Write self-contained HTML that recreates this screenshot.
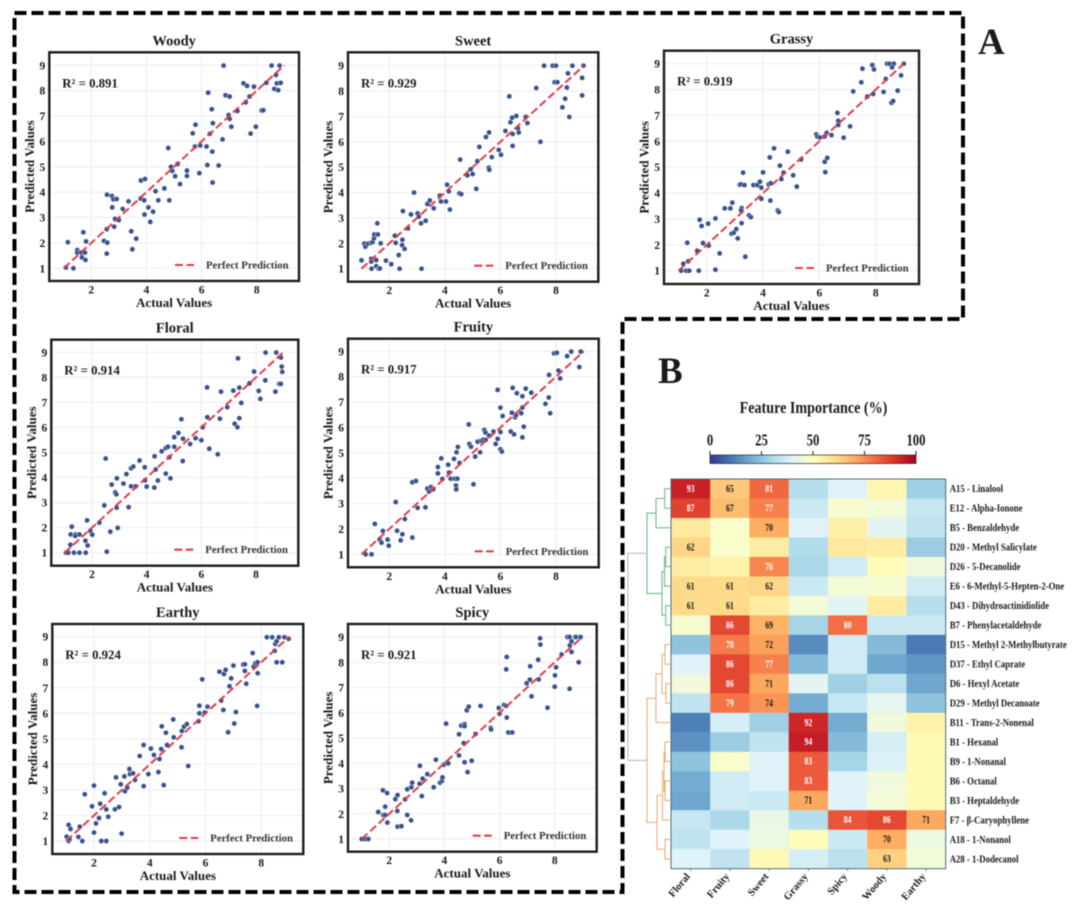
<!DOCTYPE html>
<html lang="en">
<head>
<meta charset="utf-8">
<title>Aroma prediction scatter plots and feature importance heatmap</title>
<style>
html,body{margin:0;padding:0;background:#fff;}
svg{display:block;filter:blur(0.55px);}
text{font-family:"Liberation Serif",serif;font-weight:bold;fill:#1a1a1a;}
</style>
</head>
<body>
<svg id="figure" xmlns="http://www.w3.org/2000/svg" width="1080" height="907" viewBox="0 0 1080 907">
  <rect x="0" y="0" width="1080" height="907" fill="#fff"/>
  <path d="M14.5 13H963V319H622.5V892H14.5Z" fill="none" stroke="#000" stroke-width="4" stroke-dasharray="12 5"/>
  <text x="978" y="54" font-size="37" fill="#000">A</text>
  <text x="658" y="383" font-size="37" fill="#000">B</text>
  <text transform="translate(813.5,413) scale(.83,1)" text-anchor="middle" font-size="17">Feature Importance (%)</text>
  <g id="scatters"></g>
  <g id="heatmap"></g>
</svg>
<script>
// ---------- Scatter data ----------
const woodyActual = [1.08,1.35,1.15,1.49,1.49,1.63,1.66,1.71,1.77,1.79,1.81,2.46,2.58,2.56,2.56,2.57,2.75,2.8,2.92,2.76,3.14,2.86,3.0,2.83,3.35,3.45,3.63,3.49,3.79,3.8,3.95,3.92,4.07,4.24,3.93,4.14,4.33,4.43,4.65,4.83,4.79,4.89,4.94,5.04,5.13,5.22,5.47,5.47,5.92,5.68,5.78,5.76,5.95,6.18,6.21,6.4,6.39,6.62,6.3,6.41,6.37,6.24,6.76,6.8,6.87,7.02,6.98,7.02,7.08,7.3,7.52,7.65,7.6,7.74,7.9,7.78,7.97,8.18,8.24,8.35,8.54,8.83,8.7,8.64,8.78,8.73,8.87];
const woodyPredicted = [1.03,1.0,2.03,1.72,1.62,1.62,1.43,2.42,1.62,1.33,2.06,2.08,2.01,1.58,2.54,3.9,3.85,3.72,3.73,3.4,3.34,2.95,2.9,2.64,3.64,2.46,2.17,1.75,3.75,4.46,4.52,3.68,3.4,3.23,3.12,2.83,4.04,3.68,4.15,3.68,5.74,5.0,4.84,4.63,5.11,4.32,4.85,4.64,4.75,6.32,6.66,5.8,5.84,5.8,5.07,4.38,5.6,5.05,6.3,6.72,7.27,7.92,6.08,8.99,7.82,7.77,7.04,6.89,6.58,7.2,8.29,8.19,7.54,7.77,8.16,6.31,6.58,7.22,7.23,8.31,8.99,8.99,8.62,8.07,8.02,8.29,8.31];

const sweetActual = [1.0,1.1,1.14,1.24,1.34,1.4,1.35,1.35,1.36,1.45,1.46,1.59,1.57,1.53,1.53,1.62,1.66,1.69,1.88,2.07,2.2,2.23,2.34,2.37,2.47,2.46,2.55,2.49,2.67,2.78,2.89,3.02,3.06,3.14,3.31,3.16,3.37,3.46,3.6,3.82,3.86,4.04,4.08,4.14,4.18,4.55,4.52,4.59,4.81,4.93,5.0,5.13,5.17,5.24,5.48,5.59,5.58,5.6,5.69,5.94,6.02,6.18,6.32,6.36,6.42,6.44,6.44,6.57,6.63,6.66,6.91,6.97,7.29,7.44,7.57,7.88,8.0,7.95,8.05,8.23,8.33,8.39,8.43,8.48,8.59,8.94,8.94,8.99];
const sweetPredicted = [1.33,1.99,1.87,1.99,2.02,2.05,1.39,1.28,1.0,2.2,2.35,2.35,2.79,1.34,1.1,1.0,1.01,2.0,1.32,1.18,2.3,2.02,1.54,1.0,2.14,1.93,1.78,3.27,2.59,3.14,4.0,3.18,3.05,2.79,2.89,1.0,3.55,3.69,3.38,3.88,3.65,3.65,4.31,4.05,3.33,5.3,3.97,3.94,4.68,4.92,4.73,4.15,5.24,5.8,6.19,6.37,4.98,4.9,5.4,5.68,5.49,6.43,7.79,6.77,6.95,6.31,5.84,7.02,6.53,6.37,6.98,6.74,8.12,6.0,9.0,9.0,9.0,8.35,8.35,7.36,7.7,8.14,8.7,6.98,9.0,8.52,7.83,9.0];

const grassyActual = [1.09,1.27,1.38,1.17,1.34,1.31,1.66,1.72,1.75,1.82,1.87,2.05,2.07,2.31,2.31,2.46,2.64,2.84,2.91,2.88,2.96,3.05,3.1,3.17,3.21,3.34,3.29,3.24,3.22,3.24,3.37,3.5,3.57,3.66,3.79,3.89,3.94,4.0,3.94,4.2,4.27,4.24,4.26,4.39,4.52,4.56,4.6,4.65,4.73,4.88,5.07,5.2,5.35,5.89,5.93,6.02,6.19,6.26,6.19,6.28,6.21,6.43,6.64,6.67,6.67,6.86,7.09,7.2,7.49,7.53,7.7,7.88,7.94,7.91,8.28,8.36,8.4,8.49,8.64,8.58,8.56,8.62,8.78,8.9,9.0];
const grassyPredicted = [1.0,1.0,1.0,1.27,1.36,2.08,1.77,1.0,2.97,2.73,2.07,2.82,1.97,3.02,1.04,1.67,3.41,3.41,3.63,2.43,2.47,2.61,2.25,4.32,4.34,4.31,4.79,3.42,3.33,2.84,1.54,3.14,3.07,4.31,4.31,4.44,4.21,4.8,3.78,4.34,4.38,5.38,3.71,5.73,3.33,3.27,5.06,4.54,4.79,5.6,4.69,4.25,5.3,6.27,6.18,6.15,6.19,6.33,5.21,5.36,4.81,6.24,7.1,6.79,6.63,6.14,6.58,7.93,8.28,8.81,7.73,8.95,8.78,7.83,7.91,8.41,9.0,9.0,9.0,8.86,7.49,7.56,7.96,8.55,9.0];

const floralActual = [1.05,1.13,1.34,1.54,1.77,1.21,1.26,1.22,1.39,1.39,1.54,1.76,1.84,1.82,1.94,2.01,2.27,2.45,2.5,2.54,2.67,2.72,2.85,2.89,2.91,2.9,2.94,3.15,3.26,3.34,3.43,3.43,3.51,3.6,3.74,3.93,3.94,4.0,4.29,4.33,4.28,4.41,4.55,4.7,4.78,4.7,4.83,4.87,5.01,5.01,5.16,5.27,5.33,5.32,5.59,5.79,6.0,6.05,6.21,6.22,6.29,6.6,6.68,6.72,6.95,7.17,7.22,7.32,7.34,7.39,7.39,7.46,7.76,7.93,8.1,8.16,8.34,8.35,8.71,8.74,8.85,8.91,8.91,8.94,8.96];
const floralPredicted = [1.0,1.0,1.0,1.0,1.0,1.32,2.04,1.73,1.73,1.67,1.73,1.48,1.29,2.29,1.87,1.72,2.2,2.89,4.76,1.04,1.84,3.72,3.41,3.33,3.97,2.8,1.99,3.76,4.14,2.82,4.37,3.65,4.44,3.65,4.68,4.41,3.89,3.64,4.85,4.32,3.6,3.88,5.05,5.18,5.23,4.16,4.81,3.97,5.61,5.23,5.78,6.33,5.55,4.66,5.34,5.57,5.49,6.01,7.6,6.41,5.15,4.93,6.35,7.43,6.81,7.47,6.15,6.01,8.76,6.37,7.59,6.98,7.76,8.23,7.46,7.14,7.88,8.99,7.43,8.99,7.74,7.74,8.79,8.43,8.22];

const fruityActual = [1.15,1.36,1.48,1.65,1.72,1.77,1.94,1.98,2.23,2.28,2.41,2.47,2.56,2.83,2.83,2.96,3.02,3.3,3.37,3.43,3.5,3.58,3.75,3.75,3.87,3.91,4.12,4.15,4.21,4.33,4.42,4.47,4.36,4.45,4.4,4.41,4.53,4.86,4.88,4.94,5.03,5.09,5.18,5.27,5.31,5.39,5.42,5.46,5.47,5.59,5.75,5.83,5.9,5.9,6.0,6.0,6.0,6.05,6.08,6.37,6.41,6.49,6.44,6.53,6.56,6.59,6.75,6.79,6.79,6.79,6.84,6.91,7.11,7.62,7.74,7.75,7.79,7.93,8.03,8.09,8.15,8.4,8.55,8.84,8.89];
const fruityPredicted = [1.0,1.0,2.2,1.59,1.46,1.92,1.58,1.34,3.06,1.93,1.55,1.79,2.39,3.84,1.66,3.89,2.83,2.85,3.59,3.47,3.65,3.56,4.44,4.19,4.78,3.97,4.53,4.22,3.98,4.76,5.02,5.23,3.98,3.98,3.71,3.56,4.6,6.12,5.35,5.24,3.76,4.85,5.44,5.02,5.48,5.52,5.9,5.8,5.51,5.68,5.84,5.35,5.55,7.48,5.82,6.78,5.14,5.05,6.45,5.84,6.58,5.73,7.56,6.4,6.48,7.35,6.56,7.23,6.78,5.61,6.03,7.53,7.37,6.93,7.18,8.07,6.56,8.92,8.94,8.24,7.93,8.81,8.99,8.38,8.99];

const earthyActual = [1.02,1.09,1.12,1.09,1.16,1.44,1.49,1.58,1.67,1.93,2.0,2.0,2.07,2.18,2.22,2.26,2.38,2.44,2.44,2.51,2.75,2.79,2.9,2.96,2.99,3.09,3.11,3.19,3.27,3.29,3.4,3.47,3.64,3.78,3.78,3.95,4.04,4.15,4.31,4.35,4.41,4.43,4.5,4.58,4.62,4.84,4.86,5.14,5.15,5.23,5.33,5.38,5.75,5.78,5.78,5.88,5.97,6.07,6.5,6.56,6.64,6.66,6.72,6.81,6.86,6.92,7.0,7.03,7.09,7.35,7.41,7.41,7.46,7.69,7.73,7.79,7.87,7.85,7.87,8.2,8.39,8.48,8.5,8.55,8.55,8.63,8.75,8.83,8.98];
const earthyPredicted = [1.17,1.0,1.07,1.63,1.47,1.16,1.56,1.0,2.83,2.36,3.17,1.33,1.69,1.9,2.46,1.0,2.87,2.24,1.0,1.95,2.24,3.49,2.33,3.22,1.29,3.53,2.95,3.09,3.82,3.62,3.65,3.39,4.33,4.76,3.15,3.62,4.62,4.37,3.7,4.21,4.6,5.49,3.19,5.24,4.76,5.76,5.06,4.67,5.31,5.48,5.58,3.94,5.69,6.3,6.0,7.33,6.03,6.26,7.63,6.5,6.13,7.54,7.7,5.26,7.06,7.37,7.87,5.6,6.05,7.91,7.92,7.66,7.16,8.36,7.83,7.96,8.0,6.29,7.57,8.98,8.98,8.45,8.72,8.82,8.0,8.98,8.0,8.98,8.92];

const spicyActual = [1.0,1.12,1.24,1.6,1.77,1.78,1.85,1.85,1.93,1.92,2.22,2.29,2.3,2.3,2.44,2.57,2.65,2.65,2.79,2.8,2.83,3.11,3.1,3.18,3.21,3.38,3.61,3.69,3.84,3.91,3.93,3.98,4.06,4.07,4.14,4.53,4.53,4.61,4.73,4.73,4.7,4.73,4.81,4.84,4.88,4.99,5.13,5.31,5.68,5.69,5.97,6.0,6.16,6.26,6.24,6.24,6.26,6.32,6.46,6.98,7.1,7.11,7.16,7.4,7.42,7.47,7.48,7.74,8.0,8.01,8.05,8.25,8.46,8.54,8.54,8.55,8.61,8.61,8.74,8.87,8.77,8.94];
const spicyPredicted = [1.0,1.0,1.0,2.07,2.93,1.95,2.28,1.95,1.65,2.82,2.58,2.11,2.74,1.49,1.51,2.57,2.97,1.95,1.74,3.05,3.23,3.9,3.19,2.7,3.39,3.57,3.05,4.14,3.23,3.3,3.44,3.94,5.57,4.0,4.0,5.15,4.31,5.49,5.55,5.47,4.8,4.04,6.1,3.65,6.24,4.1,5.16,6.27,5.4,5.34,6.19,5.96,6.31,8.21,7.72,6.27,5.81,5.22,5.22,7.17,7.31,7.84,6.65,8.1,7.32,8.95,8.7,6.2,7.03,7.48,7.8,8.31,9.0,9.0,6.95,8.67,8.83,8.41,9.0,8.0,9.0,9.0];

const xTickValues = [2,4,6,8];
const yTickValues = [1,2,3,4,5,6,7,8,9];
const perfectLineRange = [1,9];

const panelNames = ["Woody","Sweet","Grassy","Floral","Fruity","Earthy","Spicy"];

// ---------- Heatmap data ----------
const compoundLabels = ["A15 - Linalool","E12 - Alpha-Ionone","B5 - Benzaldehyde","D20 - Methyl Salicylate","D26 - 5-Decanolide","E6 - 6-Methyl-5-Hepten-2-One","D43 - Dihydroactinidiolide","B7 - Phenylacetaldehyde","D15 - Methyl 2-Methylbutyrate","D37 - Ethyl Caprate","D6 - Hexyl Acetate","D29 - Methyl Decanoate","B11 - Trans-2-Nonenal","B1 - Hexanal","B9 - 1-Nonanal","B6 - Octanal","B3 - Heptaldehyde","F7 - β-Caryophyllene","A18 - 1-Nonanol","A28 - 1-Dodecanol"];
const aromaLabels = ["Floral","Fruity","Sweet","Grassy","Spicy","Woody","Earthy"];
const floralImportance = [93,87,57,62,56,61,61,47,25,40,45,34,12,15,25,20,19,35,34,40];
const fruityImportance = [65,67,48,48,54,61,61,86,78,86,86,79,38,27,48,37,37,30,40,34];
const sweetImportance = [81,77,70,56,76,62,56,69,72,77,71,74,28,34,40,40,36,43,44,52];
const grassyImportance = [32,36,40,31,30,36,46,29,14,23,41,20,92,94,83,83,71,32,51,38];
const spicyImportance = [40,47,55,57,37,46,41,80,37,37,28,35,20,23,29,40,40,84,36,33];
const woodyImportance = [53,46,41,56,51,47,56,36,23,19,33,42,45,38,39,45,46,86,70,63];
const earthyImportance = [28,35,34,27,45,37,32,36,11,16,19,25,54,52,52,52,52,71,44,46];
const annotationThreshold = 60;
const whiteTextThreshold = 76;
const colorbarTicks = [0,25,50,75,100];
const colormapStops = ["#313695","#4575b4","#74add1","#abd9e9","#e0f3f8","#ffffbf","#fee090","#fdae61","#f46d43","#d73027","#a50026"];

// Dendrogram merges: [distance, leftChild, rightChild]; a number child is a row index
const greenClusterTree = [24,[15,[6.3,0,1],2],[9,[6.5,[5.3,3,4],5],[5.3,6,7]]];
const orangeClusterTree = [24,[15,[9,[6,8,9],[5,10,11]],12],[14,[8.5,[7,[6,13,14],[6,15,16]],17],[6,18,19]]];
const rootMergeDistance = 43;

// ---------- Layout (pixels) ----------
const layout = {
  Woody:{left:49.3,right:299,top:52.3,bottom:281,x2:91.3,x8:256.7,y1:268.3,y9:65.3},
  Sweet:{left:348,right:598.3,top:52.3,bottom:281.7,x2:389.3,x8:556,y1:268.7,y9:65.7},
  Grassy:{left:664,right:919,top:50.7,bottom:284,x2:706.7,x8:875.7,y1:270.7,y9:63.7},
  Floral:{left:51.3,right:298.3,top:339.7,bottom:565.7,x2:92,x8:256,y1:552.7,y9:352.3},
  Fruity:{left:348,right:598.7,top:338.7,bottom:567.3,x2:389.3,x8:556,y1:554.3,y9:351.3},
  Earthy:{left:52.3,right:303.3,top:624,bottom:854,x2:94,x8:261.3,y1:841,y9:636.7},
  Spicy:{left:348,right:596.7,top:624,bottom:851.7,x2:389.3,x8:554.7,y1:839,y9:637}
};
const heat = {left:671,right:945.7,top:479,bottom:868.7};
const bar = {left:710,right:916,top:455,bottom:463.5};

const panelSeries = {
  Woody:{actual:woodyActual,predicted:woodyPredicted,r2:"0.891"},
  Sweet:{actual:sweetActual,predicted:sweetPredicted,r2:"0.929"},
  Grassy:{actual:grassyActual,predicted:grassyPredicted,r2:"0.919"},
  Floral:{actual:floralActual,predicted:floralPredicted,r2:"0.914"},
  Fruity:{actual:fruityActual,predicted:fruityPredicted,r2:"0.917"},
  Earthy:{actual:earthyActual,predicted:earthyPredicted,r2:"0.924"},
  Spicy:{actual:spicyActual,predicted:spicyPredicted,r2:"0.921"}
};

const NS = "http://www.w3.org/2000/svg";
function make(tag, parent, attrs, txt){
  const el = document.createElementNS(NS, tag);
  for (const k in attrs) el.setAttribute(k, attrs[k]);
  if (txt !== undefined) el.textContent = txt;
  parent.appendChild(el);
  return el;
}

// ---------- Scatter panels ----------
const scatterRoot = document.getElementById("scatters");
panelNames.forEach(function(name){
  const box = layout[name];
  const series = panelSeries[name];
  const slug = name.toLowerCase();
  const xScale = function(v){ return box.x2 + (v - 2) * (box.x8 - box.x2) / 6; };
  const yScale = function(v){ return box.y1 - (v - 1) * (box.y1 - box.y9) / 8; };

  const g = make("g", scatterRoot, {});
  
  

  xTickValues.forEach(function(t){
    const line = make("line", g, {x1:xScale(t),x2:xScale(t),y1:box.top,y2:box.bottom,stroke:"#ededf0","stroke-width":1});
    
    
    const label = make("text", g, {x:xScale(t),y:box.bottom+12.5,"text-anchor":"middle","font-size":11.5}, String(t));
    
    
  });
  yTickValues.forEach(function(t){
    const line = make("line", g, {x1:box.left,x2:box.right,y1:yScale(t),y2:yScale(t),stroke:"#ededf0","stroke-width":1});
    
    
    const label = make("text", g, {x:box.left-4,y:yScale(t)+4,"text-anchor":"end","font-size":11.5}, String(t));
    
    
  });

  series.actual.forEach(function(a, i){
    const dot = make("circle", g, {cx:xScale(a),cy:yScale(series.predicted[i]),r:2.6,fill:"#38528f",stroke:"#fff","stroke-width":0.4});
    
    
  });

  const diag = make("line", g, {x1:xScale(perfectLineRange[0]),y1:yScale(perfectLineRange[0]),x2:xScale(perfectLineRange[1]),y2:yScale(perfectLineRange[1]),stroke:"#df3a47","stroke-width":2.1,"stroke-dasharray":"8 3.5","stroke-opacity":0.95});
  
  

  const frame = make("rect", g, {x:box.left,y:box.top,width:box.right-box.left,height:box.bottom-box.top,fill:"none",stroke:"#1c1c1c","stroke-width":2.4});
  
  

  const mid = (box.left + box.right) / 2;
  const title = make("text", g, {x:mid,y:box.top-7,"text-anchor":"middle","font-size":14.5}, name);
  
  

  const xTitle = make("text", g, {x:mid,y:box.bottom+26,"text-anchor":"middle","font-size":13}, "Actual Values");
  
  

  const yMid = (box.top + box.bottom) / 2;
  const yTitle = make("text", g, {transform:"translate("+(box.left-15.5)+","+yMid+") rotate(-90)","text-anchor":"middle","font-size":13}, "Predicted Values");
  
  

  const r2 = make("text", g, {x:box.left+13,y:box.top+35,"font-size":12.8}, "R² = " + series.r2);
  
  

  const legendKey = make("line", g, {x1:box.right-124,x2:box.right-105,y1:box.bottom-16,y2:box.bottom-16,stroke:"#df3a47","stroke-width":2.1,"stroke-dasharray":"8 3.5"});
  
  

  const legendText = make("text", g, {x:box.right-93,y:box.bottom-12.5,"font-size":10.7,style:"fill:#333"}, "Perfect Prediction");
  
  
});

// ---------- Heatmap ----------
const heatRoot = document.getElementById("heatmap");
const importanceColumns = [floralImportance,fruityImportance,sweetImportance,grassyImportance,spicyImportance,woodyImportance,earthyImportance];
const cellW = (heat.right - heat.left) / aromaLabels.length;
const cellH = (heat.bottom - heat.top) / compoundLabels.length;
const colX = function(c){ return heat.left + c * cellW; };
const rowY = function(r){ return heat.top + r * cellH; };
const rowCentre = function(r){ return heat.top + (r + 0.5) * cellH; };
const distX = function(d){ return heat.left - d; };

function mix(a, b, t){
  const pa = parseInt(a.slice(1), 16), pb = parseInt(b.slice(1), 16);
  const ch = function(s){ return Math.round(((pa >> s) & 255) * (1 - t) + ((pb >> s) & 255) * t); };
  return "rgb(" + ch(16) + "," + ch(8) + "," + ch(0) + ")";
}
function colorFor(v){
  const p = Math.max(0, Math.min(0.9999, v / 100)) * (colormapStops.length - 1);
  const i = Math.floor(p);
  return mix(colormapStops[i], colormapStops[i + 1], p - i);
}

importanceColumns.forEach(function(column, c){
  column.forEach(function(v, r){
    const cell = make("rect", heatRoot, {x:colX(c),y:rowY(r),width:cellW+0.2,height:cellH+0.2,fill:colorFor(v)});
    
    
    if (v >= annotationThreshold) {
      const note = make("text", heatRoot, {transform:"translate("+(colX(c)+cellW/2)+","+(rowCentre(r)+3.2)+") scale(.78,1)","text-anchor":"middle","font-size":10,style:"fill:"+(v >= whiteTextThreshold ? "#fff" : "#1a1a1a")}, String(v));
      
      
    }
  });
});

const heatFrame = make("rect", heatRoot, {x:heat.left,y:heat.top,width:heat.right-heat.left,height:heat.bottom-heat.top,fill:"none",stroke:"#4a6f78","stroke-width":1});



compoundLabels.forEach(function(label, r){
  const t = make("text", heatRoot, {transform:"translate("+(heat.right+4)+","+(rowCentre(r)+3.4)+") scale(.875,1)","font-size":10}, label);
  
  
});

aromaLabels.forEach(function(label, c){
  const cx = colX(c) + cellW / 2;
  const tick = make("line", heatRoot, {x1:cx,x2:cx,y1:heat.bottom,y2:heat.bottom+2,stroke:"#555","stroke-width":0.8});
  
  
  const t = make("text", heatRoot, {transform:"translate("+(cx)+","+(heat.bottom+8)+") rotate(-50)","text-anchor":"end","font-size":10.5}, label);
  
  
});

// Dendrogram
function drawTree(node, colour){
  if (typeof node === "number") return {row:node, dist:0};
  const a = drawTree(node[1], colour);
  const b = drawTree(node[2], colour);
  const d = node[0];
  const path = "M" + distX(a.dist) + " " + rowCentre(a.row) + "H" + distX(d) + "V" + rowCentre(b.row) + "H" + distX(b.dist);
  const link = make("path", heatRoot, {d:path,fill:"none",stroke:colour,"stroke-width":1});
  
  
  return {row:(a.row + b.row) / 2, dist:d};
}
const greenTop = drawTree(greenClusterTree, "#5fb874");
const orangeTop = drawTree(orangeClusterTree, "#eba86a");
const rootPath = "M" + distX(greenTop.dist) + " " + rowCentre(greenTop.row) + "H" + distX(rootMergeDistance) + "V" + rowCentre(orangeTop.row) + "H" + distX(orangeTop.dist);
const rootLink = make("path", heatRoot, {d:rootPath,fill:"none",stroke:"#b5b5b5","stroke-width":1});



// Colorbar
const defs = make("defs", heatRoot, {});
const grad = make("linearGradient", defs, {id:"cbGradient",x1:0,x2:1,y1:0,y2:0});
colormapStops.forEach(function(colour, i){
  make("stop", grad, {offset:(i / (colormapStops.length - 1)),"stop-color":colour});
});
const cbScale = function(v){ return bar.left + v / 100 * (bar.right - bar.left); };
const cb = make("rect", heatRoot, {x:bar.left,y:bar.top,width:bar.right-bar.left,height:bar.bottom-bar.top,fill:"url(#cbGradient)",stroke:"#222","stroke-width":0.7});


colorbarTicks.forEach(function(v){
  const tick = make("line", heatRoot, {x1:cbScale(v),x2:cbScale(v),y1:bar.top-4,y2:bar.top,stroke:"#222","stroke-width":1});
  
  
  const label = make("text", heatRoot, {transform:"translate("+cbScale(v)+",445.5) scale(.75,1)","text-anchor":"middle","font-size":17}, String(v));
  
  
});
</script>
</body>
</html>
